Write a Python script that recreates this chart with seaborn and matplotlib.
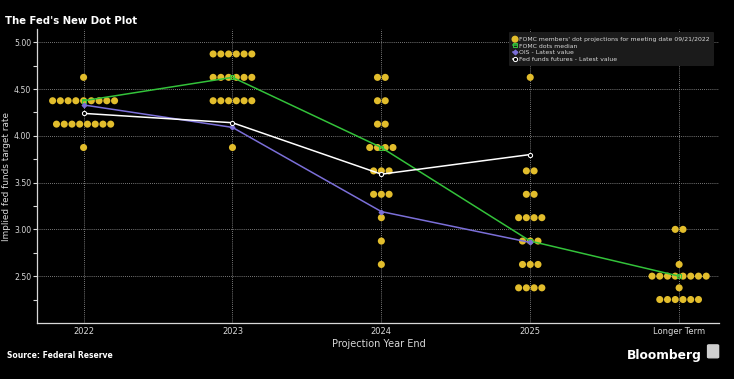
import numpy as np
import pandas as pd
import matplotlib.pyplot as plt
import seaborn as sns
from matplotlib.patches import FancyBboxPatch

# categories on the x axis
years = ["2022", "2023", "2024", "2025", "Longer Term"]

# FOMC dot projections: rate level -> number of participants
dots_2022 = {4.625: 1, 4.375: 9, 4.125: 8, 3.875: 1}
dots_2023 = {4.875: 6, 4.625: 6, 4.375: 6, 3.875: 1}
dots_2024 = {4.625: 2, 4.375: 2, 4.125: 2, 3.875: 4, 3.625: 3, 3.375: 3,
             3.125: 1, 2.875: 1, 2.625: 1}
dots_2025 = {4.625: 1, 3.625: 2, 3.375: 2, 3.125: 4, 2.875: 3, 2.625: 3,
             2.375: 4}
dots_longer = {3.0: 2, 2.625: 1, 2.5: 8, 2.375: 1, 2.25: 6}

median = [4.375, 4.625, 3.875, 2.875, 2.5]
ois = [4.33, 4.09, 3.19, 2.86]
futures = [4.24, 4.14, 3.59, 3.80]

all_dots = [dots_2022, dots_2023, dots_2024, dots_2025, dots_longer]

# lay the dots out side by side, centred on each category
step = 0.052
rows = []
for i, d in enumerate(all_dots):
    for rate, n in d.items():
        for k in range(n):
            rows.append({"x": i + (k - (n - 1) / 2) * step, "rate": rate})
df = pd.DataFrame(rows)

plt.rcParams['font.family'] = ['Liberation Sans Narrow', 'DejaVu Sans']
fig = plt.figure(figsize=(7.34, 3.79), dpi=100, facecolor="black")
ax = fig.add_axes([0.051, 0.148, 0.929, 0.775])
ax.set_facecolor("black")

fg = "#d8d8d8"
gold = "#e2bd2c"

sns.scatterplot(data=df, x="x", y="rate", ax=ax, color=gold, s=26,
                edgecolor="none", zorder=3,
                label="FOMC members' dot projections for meeting date 09/21/2022")
sns.lineplot(x=range(len(median)), y=median, ax=ax, color="#33c23a", lw=1.1,
             marker="s", markersize=3, markerfacecolor="none",
             markeredgecolor="#33c23a", zorder=4, label="FOMC dots median")
sns.lineplot(x=range(len(ois)), y=ois, ax=ax, color="#7b6fd8", lw=1.1,
             marker="D", markersize=2.5, markeredgecolor="#7b6fd8", zorder=4,
             label="OIS - Latest value")
sns.lineplot(x=range(len(futures)), y=futures, ax=ax, color="white", lw=1.1,
             marker="o", markersize=3, markerfacecolor="black",
             markeredgecolor="white", zorder=4,
             label="Fed funds futures - Latest value")

ax.set_xlim(-0.31, 4.27)
ax.set_ylim(2.0, 5.14)
ax.set_xticks(range(len(years)))
ax.set_xticklabels(years)
ax.set_yticks(np.arange(2.5, 5.01, 0.5))
ax.set_yticks(np.arange(2.25, 5.01, 0.25), minor=True)
ax.yaxis.set_major_formatter(plt.FormatStrFormatter("%.2f"))

ax.grid(True, which="major", color="#a0a0a0", linestyle=(0, (1, 1.5)), lw=0.6)
ax.tick_params(axis="y", which="both", colors=fg, labelsize=5.6, length=3,
               width=0.8, direction="out", pad=1.5)
ax.tick_params(axis="x", colors=fg, labelsize=6, length=0, pad=3)
for s in ["top", "right"]:
    ax.spines[s].set_visible(False)
for s in ["left", "bottom"]:
    ax.spines[s].set_color(fg)
    ax.spines[s].set_linewidth(0.9)

ax.set_xlabel("Projection Year End", color=fg, fontsize=7, labelpad=2)
ax.set_ylabel("Implied fed funds target rate", color=fg, fontsize=6.4)
ax.yaxis.set_label_coords(-0.039, 0.5)

leg = ax.legend(loc="upper right", fontsize=4.4, facecolor="#1b1b1b",
                edgecolor="none", framealpha=1, handlelength=0.6,
                handletextpad=0.4, labelspacing=0.25, borderpad=0.7,
                bbox_to_anchor=(0.997, 1.0))
for t in leg.get_texts():
    t.set_color(fg)

fig.text(0.007, 0.937, "The Fed's New Dot Plot", color="white", fontsize=7.3,
         fontweight="bold", family=["DejaVu Sans"])
fig.text(0.009, 0.055, "Source: Federal Reserve", color="white", fontsize=5.5,
         fontweight="bold", family=["DejaVu Sans"])
fig.text(0.956, 0.052, "Bloomberg", color="white", fontsize=8.8,
         fontweight="bold", ha="right", family=["DejaVu Sans"])
fig.patches.append(FancyBboxPatch((0.966, 0.058), 0.011, 0.03,
                                  boxstyle="round,pad=0.002", color="#cfcfcf",
                                  transform=fig.transFigure))

fig.savefig("out.png", dpi=100, facecolor="black")
